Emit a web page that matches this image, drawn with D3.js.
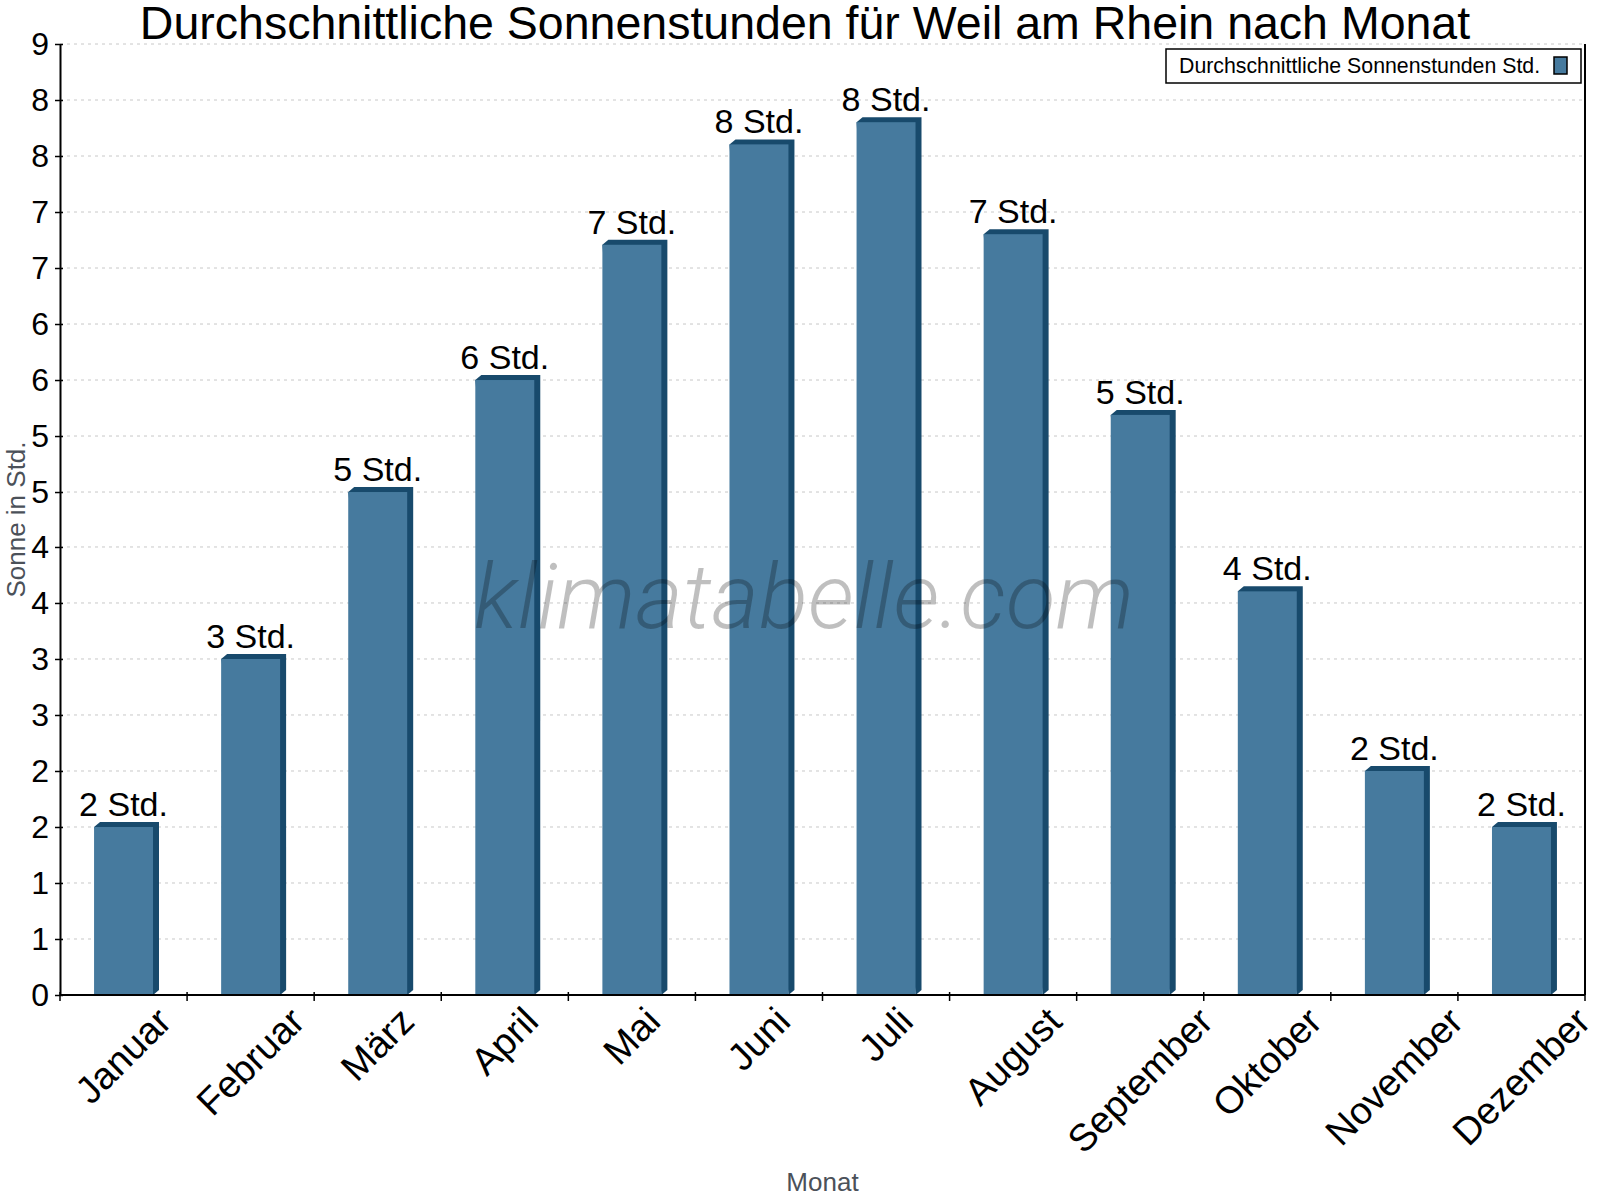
<!DOCTYPE html>
<html>
<head>
<meta charset="utf-8">
<script src="https://cdn.jsdelivr.net/npm/d3@7"></script>
<style>
  body { margin: 0; background: #ffffff; }
  svg { display: block; font-family: "Liberation Sans", Arial, sans-serif; }
</style>
</head>
<body>
<svg></svg>
<script>
// data
let months = ['Januar', 'Februar', 'März', 'April', 'Mai', 'Juni', 'Juli', 'August', 'September', 'Oktober', 'November', 'Dezember']
let sunHours = [1.59, 3.18, 4.76, 5.82, 7.10, 8.05, 8.26, 7.20, 5.49, 3.82, 2.12, 1.59]
let yTicks = [0, 0.53, 1.06, 1.59, 2.12, 2.65, 3.18, 3.71, 4.24, 4.76, 5.29, 5.82, 6.35, 6.88, 7.41, 7.94, 8.47, 9]

let titleText = 'Durchschnittliche Sonnenstunden für Weil am Rhein nach Monat'
let legendText = 'Durchschnittliche Sonnenstunden Std.'

// canvas dimensions
let width = 1600
let height = 1200
let plotLeft = 60
let plotRight = 1585
let plotTop = 44
let plotBottom = 995

// 3d depth of the bars
let depthX = 6
let depthY = 5

let frontColor = '#467a9e'
let sideColor = '#184a6c'

let svg = d3.select('svg')
    .attr('width', width)
    .attr('height', height)

svg.append('rect')
    .attr('width', width)
    .attr('height', height)
    .attr('fill', '#ffffff')

// scales
let xOuter = d3.scaleBand()
    .domain(months)
    .range([plotLeft, plotRight])

let xScale = d3.scaleBand()
    .domain(months)
    .range([plotLeft, plotRight])
    .paddingInner(0.536)
    .paddingOuter(0.268)

let yScale = d3.scaleLinear()
    .domain([0, 9])
    .range([plotBottom, plotTop])

// grid lines
svg.append('g')
    .selectAll('line')
    .data(yTicks)
    .enter()
    .append('line')
    .attr('x1', plotLeft)
    .attr('x2', plotRight)
    .attr('y1', (d) => yScale(d))
    .attr('y2', (d) => yScale(d))
    .attr('stroke', '#c8c8c8')
    .attr('stroke-width', 1)
    .attr('stroke-dasharray', '3,4')

// watermark (drawn under the bars' labels, over the bars)
let drawWatermark = () => {
    svg.append('text')
        .attr('x', 474)
        .attr('y', 628)
        .attr('font-size', 90)
        .attr('font-family', 'Roboto, sans-serif')
        .attr('font-style', 'italic')
        .attr('font-weight', 300)
        .attr('textLength', 660)
        .attr('lengthAdjust', 'spacingAndGlyphs')
        .attr('fill', '#000000')
        .attr('fill-opacity', 0.25)
        .text('klimatabelle.com')
}

// bars
let bars = svg.append('g')
    .selectAll('g')
    .data(sunHours)
    .enter()
    .append('g')

// side and top face
bars.append('path')
    .attr('fill', sideColor)
    .attr('d', (d, i) => {
        let x0 = xScale(months[i])
        let x1 = x0 + xScale.bandwidth()
        let y0 = yScale(d)
        let y1 = yScale(0)
        return 'M' + x0 + ',' + y0 +
            'L' + (x0 + depthX) + ',' + (y0 - depthY) +
            'L' + (x1 + depthX) + ',' + (y0 - depthY) +
            'L' + (x1 + depthX) + ',' + (y1 - depthY) +
            'L' + x1 + ',' + y1 + 'Z'
    })

// front face
bars.append('rect')
    .attr('fill', frontColor)
    .attr('x', (d, i) => xScale(months[i]))
    .attr('y', (d) => yScale(d))
    .attr('width', xScale.bandwidth())
    .attr('height', (d) => yScale(0) - yScale(d))

drawWatermark()

// value labels
svg.append('g')
    .selectAll('text')
    .data(sunHours)
    .enter()
    .append('text')
    .attr('x', (d, i) => xScale(months[i]) + xScale.bandwidth() / 2)
    .attr('y', (d) => yScale(d) - 11)
    .attr('text-anchor', 'middle')
    .attr('font-size', 34)
    .attr('fill', '#000000')
    .text((d) => d3.format('.0f')(d) + ' Std.')

// y axis
let yAxis = d3.axisLeft(yScale)
    .tickValues(yTicks)
    .tickFormat(d3.format('.0f'))
    .tickSizeInner(5)
    .tickSizeOuter(0)
    .tickPadding(6)

let yAxisGroup = svg.append('g')
    .attr('transform', 'translate(' + plotLeft + ', 0)')
    .call(yAxis)

yAxisGroup.select('.domain').attr('stroke', '#000000').attr('stroke-width', 2)
yAxisGroup.selectAll('.tick line').attr('stroke', '#000000').attr('stroke-width', 1.5)
yAxisGroup.selectAll('.tick line').attr('x2', 3).attr('x1', -5)
yAxisGroup.selectAll('.tick text')
    .attr('font-size', 32)
    .attr('font-family', '"Liberation Sans", Arial, sans-serif')
    .attr('fill', '#000000')

// x axis line
svg.append('line')
    .attr('x1', plotLeft)
    .attr('x2', plotRight)
    .attr('y1', plotBottom)
    .attr('y2', plotBottom)
    .attr('stroke', '#000000')
    .attr('stroke-width', 2)

// right border
svg.append('line')
    .attr('x1', plotRight)
    .attr('x2', plotRight)
    .attr('y1', plotTop)
    .attr('y2', plotBottom)
    .attr('stroke', '#000000')
    .attr('stroke-width', 2)

// x ticks at the band boundaries
svg.append('g')
    .selectAll('line')
    .data(months.concat(['end']))
    .enter()
    .append('line')
    .attr('x1', (d) => d === 'end' ? plotRight : xOuter(d))
    .attr('x2', (d) => d === 'end' ? plotRight : xOuter(d))
    .attr('y1', plotBottom - 3)
    .attr('y2', plotBottom + 6)
    .attr('stroke', '#000000')
    .attr('stroke-width', 1.5)

// month labels, rotated
let xAxis = d3.axisBottom(xOuter)
    .tickSize(0)

let xAxisGroup = svg.append('g')
    .call(xAxis)

xAxisGroup.select('.domain').remove()
xAxisGroup.selectAll('.tick').attr('transform', null)
xAxisGroup.selectAll('.tick text')
    .attr('font-size', 38)
    .attr('font-family', '"Liberation Sans", Arial, sans-serif')
    .attr('fill', '#000000')
    .attr('text-anchor', 'middle')
    .attr('dy', null)
    .attr('y', 0)
    .each(function (d) {
        let bb = this.getBBox()
        let half = 0.7071 * (bb.width + bb.height * 0.72) / 2
        let cx = xOuter(d) + xOuter.bandwidth() / 2
        let cy = 1004 + half
        d3.select(this).attr('transform',
            'translate(' + cx + ',' + cy + ') rotate(-45) translate(0,' + (bb.height * 0.3) + ')')
    })

// axis titles
svg.append('text')
    .attr('transform', 'translate(25, ' + ((plotTop + plotBottom) / 2) + ') rotate(-90)')
    .attr('text-anchor', 'middle')
    .attr('font-size', 26)
    .attr('fill', '#4b5159')
    .text('Sonne in Std.')

svg.append('text')
    .attr('x', (plotLeft + plotRight) / 2)
    .attr('y', 1191)
    .attr('text-anchor', 'middle')
    .attr('font-size', 26)
    .attr('fill', '#4b5159')
    .text('Monat')

// title
svg.append('text')
    .attr('x', 805)
    .attr('y', 39)
    .attr('text-anchor', 'middle')
    .attr('font-size', 46.5)
    .attr('fill', '#000000')
    .text(titleText)

// legend
let legend = svg.append('g')
legend.append('rect')
    .attr('x', 1166)
    .attr('y', 49)
    .attr('width', 415)
    .attr('height', 34)
    .attr('fill', '#ffffff')
    .attr('stroke', '#000000')
    .attr('stroke-width', 1.5)
legend.append('text')
    .attr('x', 1179)
    .attr('y', 73)
    .attr('font-size', 21.3)
    .attr('fill', '#000000')
    .text(legendText)
legend.append('rect')
    .attr('x', 1554)
    .attr('y', 57)
    .attr('width', 13)
    .attr('height', 17)
    .attr('fill', frontColor)
    .attr('stroke', '#000000')
    .attr('stroke-width', 1.5)
</script>
</body>
</html>
